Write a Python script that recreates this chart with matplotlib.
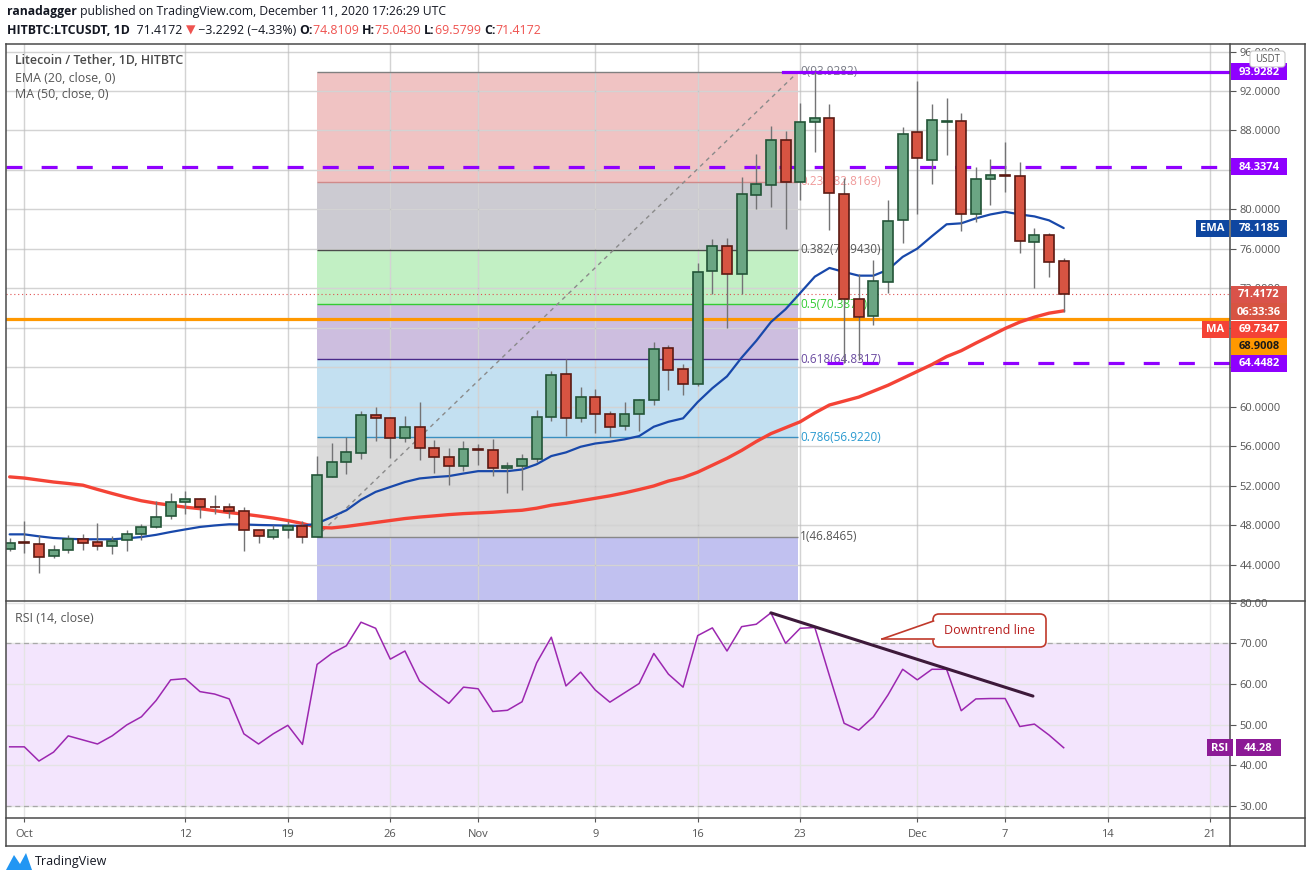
import numpy as np
import matplotlib
matplotlib.use("Agg")
import matplotlib.pyplot as plt
from matplotlib.patches import Rectangle, FancyBboxPatch, Polygon
from matplotlib.lines import Line2D
from matplotlib.transforms import IdentityTransform

# -----------------------------
# Data - day 0 = Oct 1 2020
# -----------------------------
days = list(range(-1, 72))

opens = [45.65, 46.30, 46.15, 44.94, 45.55, 46.67, 46.36, 45.96, 46.56, 47.17,
         47.82, 48.93, 50.42, 50.63, 49.92, 49.85, 49.51, 47.59, 46.88, 47.59,
         47.99, 46.88, 52.94, 54.39, 55.36, 59.16, 58.86, 56.82, 57.94, 55.81,
         54.90, 53.99, 55.71, 55.60, 53.77, 53.98, 54.70, 58.95, 63.30, 58.86,
         60.98, 59.26, 58.04, 59.26, 60.68, 65.96, 63.83, 62.33, 73.77, 76.30,
         73.47, 81.50, 82.50, 87.07, 82.80, 88.90, 89.30, 81.60, 70.93, 69.20,
         72.66, 78.95, 87.80, 85.05, 88.90, 89.00, 79.56, 83.10, 83.50, 83.40,
         76.70, 77.40, 74.81]
highs = [46.73, 48.43, 47.00, 45.99, 47.00, 47.14, 48.22, 46.90, 47.50, 48.10,
         50.46, 51.27, 51.47, 50.83, 51.07, 50.25, 49.85, 47.59, 48.00, 48.43,
         48.43, 55.00, 56.40, 56.93, 59.62, 60.00, 58.95, 59.05, 60.51, 56.65,
         55.84, 56.52, 56.20, 56.75, 54.39, 55.20, 59.70, 63.65, 64.84, 62.00,
         61.80, 59.56, 60.50, 60.78, 66.57, 66.30, 64.37, 74.59, 77.00, 77.10,
         83.30, 85.65, 88.50, 87.90, 90.80, 93.93, 90.70, 83.20, 73.50, 74.90,
         80.96, 88.40, 92.97, 90.66, 91.34, 89.80, 84.30, 85.13, 86.87, 84.80,
         78.10, 77.60, 75.04]
lows = [45.41, 45.20, 43.20, 44.70, 45.20, 45.55, 45.48, 45.13, 45.41, 46.56,
        47.75, 48.66, 49.17, 48.76, 49.20, 48.76, 45.41, 46.22, 46.60, 46.73,
        46.22, 46.85, 52.90, 53.17, 54.75, 56.60, 54.85, 56.50, 54.65, 53.33,
        52.11, 53.53, 54.08, 53.02, 51.24, 51.60, 54.45, 58.60, 57.05, 58.48,
        57.36, 56.95, 57.70, 57.60, 60.17, 61.70, 61.20, 62.10, 71.40, 67.95,
        71.40, 80.06, 80.26, 78.00, 80.96, 85.86, 77.90, 64.42, 64.76, 68.30,
        71.50, 76.60, 79.56, 82.57, 85.50, 77.80, 78.75, 80.46, 81.80, 75.60,
        72.05, 73.17, 69.58]
closes = [46.26, 46.22, 44.83, 45.55, 46.67, 46.26, 45.96, 46.46, 47.17, 47.82,
          48.83, 50.42, 50.63, 49.92, 49.85, 49.51, 47.59, 46.98, 47.49, 47.99,
          46.88, 53.06, 54.43, 55.40, 59.16, 58.86, 56.82, 57.94, 55.81, 54.90,
          53.99, 55.71, 55.62, 53.77, 53.98, 54.70, 58.95, 63.20, 58.86, 60.98,
          59.26, 57.94, 59.26, 60.68, 65.86, 63.73, 62.30, 73.67, 76.30, 73.47,
          81.60, 82.60, 87.07, 82.80, 88.90, 89.30, 81.70, 70.93, 69.10, 72.76,
          78.84, 87.68, 85.25, 89.10, 88.96, 79.56, 83.10, 83.50, 83.40, 76.80,
          77.40, 74.65, 71.4172]

ema20 = [47.10, 47.10, 46.90, 46.73, 46.65, 46.60, 46.60, 46.60, 46.70, 46.83,
         47.05, 47.34, 47.60, 47.85, 48.00, 48.12, 48.10, 48.05, 48.02, 47.99,
         47.95, 48.20, 48.86, 49.54, 50.60, 51.40, 51.90, 52.40, 52.76, 52.90,
         53.00, 53.26, 53.50, 53.50, 53.50, 53.67, 54.20, 55.03, 55.40, 55.97,
         56.30, 56.48, 56.72, 57.05, 58.00, 58.50, 58.85, 60.50, 61.90, 63.10,
         65.00, 66.70, 68.60, 69.90, 71.54, 73.20, 74.08, 73.67, 73.30, 73.30,
         73.90, 75.20, 76.04, 77.30, 78.50, 78.60, 79.10, 79.50, 79.77, 79.50,
         79.30, 78.90, 78.1185]
ma50 = [52.92, 52.80, 52.60, 52.40, 52.25, 52.08, 51.65, 51.24, 50.85, 50.50,
        50.25, 50.05, 49.85, 49.70, 49.50, 49.30, 49.15, 48.96, 48.75, 48.50,
        48.20, 47.80, 47.75, 47.90, 48.10, 48.30, 48.50, 48.70, 48.85, 48.97,
        49.10, 49.20, 49.27, 49.34, 49.45, 49.54, 49.75, 50.05, 50.25, 50.50,
        50.75, 51.00, 51.30, 51.64, 52.00, 52.50, 52.85, 53.40, 54.10, 54.80,
        55.60, 56.50, 57.30, 57.90, 58.50, 59.40, 60.20, 60.60, 61.00, 61.60,
        62.20, 62.90, 63.60, 64.30, 65.10, 65.70, 66.47, 67.20, 67.95, 68.60,
        69.10, 69.50, 69.7347]

rsi = [44.5, 44.5, 41.0, 43.2, 47.2, 46.2, 45.2, 47.2, 49.9, 51.9,
       55.9, 61.0, 61.3, 58.1, 57.5, 56.3, 47.7, 45.2, 47.7, 49.8,
       45.1, 64.8, 67.5, 69.4, 75.2, 73.7, 66.1, 68.1, 60.7, 57.9,
       55.2, 59.2, 58.8, 53.2, 53.5, 55.6, 65.2, 71.5, 59.5, 62.9,
       58.5, 55.5, 57.8, 60.1, 67.5, 62.4, 59.2, 71.9, 73.8, 68.1,
       74.1, 74.7, 77.5, 70.0, 73.7, 73.9, 62.0, 50.3, 48.6, 51.9,
       57.3, 63.6, 61.0, 63.6, 63.6, 53.4, 56.3, 56.4, 56.4, 49.5,
       50.1, 47.4, 44.28]

# fibonacci retracement
fib_ratios = [0, 0.236, 0.382, 0.5, 0.618, 0.786, 1]
fib_prices = [93.9282, 82.8169, 75.9430, 70.3874, 64.8317, 56.9220, 46.8465]

# horizontal levels
top_level = 93.9282
resist_level = 84.3374
support_level = 64.4482
orange_level = 68.9008
last_price = 71.4172

# RSI downtrend line (day, rsi)
trend_start = (51, 77.5)
trend_end = (68.9, 57.0)

date_ticks = [0, 11, 18, 25, 31, 39, 46, 53, 61, 67, 74, 81]
date_labels = ["Oct", "12", "19", "26", "Nov", "9", "16", "23", "Dec", "7", "14", "21"]
price_ticks = list(range(44, 97, 4))
hidden_price_labels = [84, 68, 64]   # covered by the level tags on the scale
rsi_ticks = [30, 40, 50, 60, 70, 80]

# -----------------------------
# Layout
# -----------------------------
W, H = 1311, 881
XMIN, XMAX = -1.25, 82.36
FONT = ["Open Sans", "DejaVu Sans"]
plt.rcParams["font.family"] = FONT

T = IdentityTransform()


def Y(y):
    """top-origin pixel -> display y"""
    return H - y


fig = plt.figure(figsize=(W / 100, H / 100), dpi=100)
fig.patch.set_facecolor("white")

ax = fig.add_axes([6 / W, 1 - 601 / H, 1224 / W, 557 / H])
ax_r = fig.add_axes([6 / W, 1 - 818 / H, 1224 / W, 217 / H])

for a in (ax, ax_r):
    for s in a.spines.values():
        s.set_visible(False)
    a.set_xlim(XMIN, XMAX)
    a.set_xticks(date_ticks)
    a.yaxis.tick_right()
    a.grid(True, color="#e4e4e4", lw=1, zorder=0)
    a.set_axisbelow(True)

ax.set_ylim(40.35, 96.76)
ax.set_yticks(price_ticks)
ax.set_yticklabels(["" if v in hidden_price_labels else f"{v:.4f}" for v in price_ticks])
ax.tick_params(axis="x", length=0, labelbottom=False)
ax.tick_params(axis="y", length=4, width=0.8, color="#555555", labelsize=8,
               labelcolor="#555555", pad=3)

ax_r.set_ylim(26.97, 80.42)
ax_r.set_yticks(rsi_ticks)
ax_r.set_yticklabels([f"{v:.2f}" for v in rsi_ticks])
ax_r.set_xticklabels(date_labels)
ax_r.tick_params(axis="y", length=4, width=0.8, color="#555555", labelsize=8,
                 labelcolor="#555555", pad=3)
ax_r.tick_params(axis="x", length=3, width=0.8, color="#555555", labelsize=8,
                 labelcolor="#555555", pad=5)

# --- fibonacci zones ---
FIB_X0, FIB_X1 = 19.96, 52.85
zone_colors = ["#f0c3c3", "#cccbd2", "#c2f0c4", "#cdbedf", "#c3e0f1", "#dadada"]
for i, c in enumerate(zone_colors):
    ax.fill_between([FIB_X0, FIB_X1], fib_prices[i + 1], fib_prices[i],
                    color=c, lw=0, zorder=0.5)
ax.fill_between([FIB_X0, FIB_X1], 40.35, fib_prices[-1], color="#c1c1f0", lw=0, zorder=0.5)
# grid on top of zones, faint
for d in date_ticks:
    ax.axvline(d, color="black", alpha=0.07, lw=1, zorder=0.6)
for p in price_ticks:
    ax.axhline(p, color="black", alpha=0.07, lw=1, zorder=0.6)

line_cols = ["#808080", "#d08a8a", "#4c4c4c", "#33cc33", "#4a2a8a", "#3a8fc0", "#888888"]
label_cols = ["#787b86", "#f09a9a", "#555555", "#33cc33", "#6a4aa0", "#2a9ad0", "#555555"]
for r, p, lc, tc in zip(fib_ratios, fib_prices, line_cols, label_cols):
    ax.hlines(p, FIB_X0, FIB_X1, color=lc, lw=1, zorder=1)
    ax.text(FIB_X1 + 0.15, p, f"{r:g}({p:.4f})", color=tc, fontsize=8.5,
            va="center", ha="left", zorder=1.2)

ax.plot([FIB_X0, FIB_X1], [fib_prices[-1], fib_prices[0]], color="#8a8a8a",
        lw=1, dashes=(3, 3), zorder=1.1)

# --- horizontal levels ---
ax.axhline(orange_level, color="#ff9800", lw=2.3, zorder=1.5)
ax.axhline(last_price, color="#e05050", lw=0.8, dashes=(1, 2.5), zorder=1.5)
ax.plot([51.8, XMAX], [top_level, top_level], color="#8f00ff", lw=2.3, zorder=1.5)
ax.axhline(resist_level, color="#8f00ff", lw=2.3, dashes=(5, 6), zorder=1.5)
ax.plot([54.8, XMAX], [support_level, support_level], color="#8f00ff", lw=2.3,
        dashes=(5, 6), zorder=1.5)

# --- moving averages ---
ax.plot(days, ma50, color="#f44336", lw=2.4, zorder=2, solid_capstyle="round")
ax.plot(days, ema20, color="#1848aa", lw=1.6, zorder=2, solid_capstyle="round")

# --- candles ---
o = np.array(opens)
c = np.array(closes)
up = c >= o
ax.vlines(days, lows, highs, color="#737375", lw=1, zorder=3)
ax.bar(np.array(days)[up], (c - o)[up], bottom=o[up], width=0.68,
       color="#6ba583", edgecolor="#225437", lw=1.2, zorder=4)
ax.bar(np.array(days)[~up], (o - c)[~up], bottom=c[~up], width=0.68,
       color="#d75442", edgecolor="#5b1a13", lw=1.2, zorder=4)

# --- RSI pane ---
ax_r.axhspan(30, 70, color="#f3e5fd", lw=0, zorder=0.2)
for lvl in (30, 70):
    ax_r.axhline(lvl, color="#a8a8a8", lw=0.9, dashes=(4, 3), zorder=0.8)
ax_r.plot(days, rsi, color="#9c27b0", lw=1.1, zorder=2)
ax_r.plot([trend_start[0], trend_end[0]], [trend_start[1], trend_end[1]],
          color="#3d1a3a", lw=2.2, zorder=3, solid_capstyle="round")

# callout "Downtrend line"
box = FancyBboxPatch((933, Y(647)), 113, 33, boxstyle="round,pad=0,rounding_size=6",
                     transform=T, facecolor="white", edgecolor="#c0392b", lw=1.2, zorder=5)
fig.add_artist(box)
fig.add_artist(Polygon([[882, Y(639)], [934, Y(621)], [934, Y(639.5)]], closed=True,
                       transform=T, facecolor="white", edgecolor="none", zorder=5.1))
fig.add_artist(Line2D([882, 933.5], [Y(639), Y(621)], transform=T, color="#c0392b", lw=1.2, zorder=5.2))
fig.add_artist(Line2D([882, 933.5], [Y(639), Y(639)], transform=T, color="#c0392b", lw=1.2, zorder=5.2))
fig.text(990, Y(630.5), "Downtrend line", transform=T, ha="center", va="center",
         color="#b71c1c", fontsize=9, zorder=6)

# --- frame lines ---
frame = "#4a4a4a"
for (x0, y0, x1, y1) in [(6, 44, 1305, 44), (6, 44, 6, 846), (1305, 44, 1305, 846),
                         (1230, 44, 1230, 846), (6, 601, 1305, 601),
                         (6, 818, 1305, 818), (6, 846, 1305, 846)]:
    fig.add_artist(Line2D([x0, x1], [Y(y0), Y(y1)], transform=T, color=frame, lw=1.1, zorder=4))


# --- axis badges ---
def pix(a, v):
    return H - a.transData.transform((0, v))[1]


def badge(x0, x1, yc, s, bg, fg="white", h=17):
    fig.add_artist(Rectangle((x0, Y(yc) - h / 2), x1 - x0, h, transform=T,
                             facecolor=bg, edgecolor="none", zorder=7))
    fig.text((x0 + x1) / 2, Y(yc) - 0.5, s, transform=T, ha="center", va="center",
             color=fg, fontsize=8, fontweight="bold", zorder=8)


violet = "#8f00ff"
badge(1231, 1287, pix(ax, top_level), f"{top_level:.4f}", violet)
badge(1231, 1287, pix(ax, resist_level), f"{resist_level:.4f}", violet)
y_ema = pix(ax, ema20[-1])
badge(1196, 1229, y_ema, "EMA", "#0e46a0")
badge(1231, 1287, y_ema, f"{ema20[-1]:.4f}", "#0e46a0")
y_last = pix(ax, last_price)
badge(1231, 1287, y_last, f"{last_price:.4f}", "#d9534a")
badge(1231, 1287, y_last + 17.5, "06:33:36", "#d75442")
badge(1202, 1229, y_last + 35, "MA", "#f44336")
badge(1231, 1287, y_last + 35, f"{ma50[-1]:.4f}", "#f44336")
badge(1231, 1287, y_last + 52, f"{orange_level:.4f}", "#ff9800", fg="#1a1a1a")
badge(1231, 1287, pix(ax, support_level), f"{support_level:.4f}", violet)

y_rsi = pix(ax_r, rsi[-1])
badge(1207, 1233, y_rsi, "RSI", "#8c1a96")
badge(1236, 1281, y_rsi, f"{rsi[-1]:.2f}", "#8c1a96")

# USDT tag
fig.add_artist(FancyBboxPatch((1250, Y(67)), 35, 16, boxstyle="round,pad=0,rounding_size=3",
                              transform=T, facecolor="white", edgecolor="#c8c8c8", lw=0.8, zorder=7))
fig.text(1267.5, Y(59.5), "USDT", transform=T, ha="center", va="center",
         color="#555555", fontsize=7, zorder=8)

# --- legends ---
fig.text(15, Y(60), "Litecoin / Tether, 1D, HITBTC", transform=T, va="center",
         color="#4a4a4a", fontsize=8.9, fontweight="semibold")
fig.text(15, Y(78), "EMA (20, close, 0)", transform=T, va="center", color="#555555", fontsize=8.9)
fig.text(15, Y(95), "MA (50, close, 0)", transform=T, va="center", color="#555555", fontsize=8.9)
fig.text(15, Y(619), "RSI (14, close)", transform=T, va="center", color="#555555", fontsize=8.9)

# --- header ---
renderer = fig.canvas.get_renderer()
dark = "#131722"
red = "#ef5350"


def seq(x, y, parts, size):
    for s, col, wt in parts:
        t = fig.text(x, Y(y), s, transform=T, va="center", ha="left",
                     color=col, fontsize=size, fontweight=wt)
        x = t.get_window_extent(renderer).x1


seq(7, 12, [("ranadagger", dark, "bold"),
            (" published on TradingView.com, December 11, 2020 17:26:29 UTC", dark, "normal")],
    size=8.7)
seq(7, 30, [("HITBTC:LTCUSDT, 1D", dark, "bold"), ("  71.4172 ", dark, "normal"),
            ("\u25bc", red, "normal"), (" \u22123.2292 (\u22124.33%) ", dark, "normal"),
            ("O:", dark, "bold"), ("74.8109 ", red, "normal"),
            ("H:", dark, "bold"), ("75.0430 ", red, "normal"),
            ("L:", dark, "bold"), ("69.5799 ", red, "normal"),
            ("C:", dark, "bold"), ("71.4172", red, "normal")],
    size=8.9)

# TradingView footer
fig.add_artist(Polygon([[6, Y(870)], [14, Y(855)], [20, Y(864)], [26, Y(853)], [32, Y(870)]],
                       closed=True, transform=T, facecolor="#2196f3", edgecolor="none"))
fig.text(35, Y(862), "TradingView", transform=T, va="center", color=dark, fontsize=9)

fig.savefig("out.png", dpi=100)
